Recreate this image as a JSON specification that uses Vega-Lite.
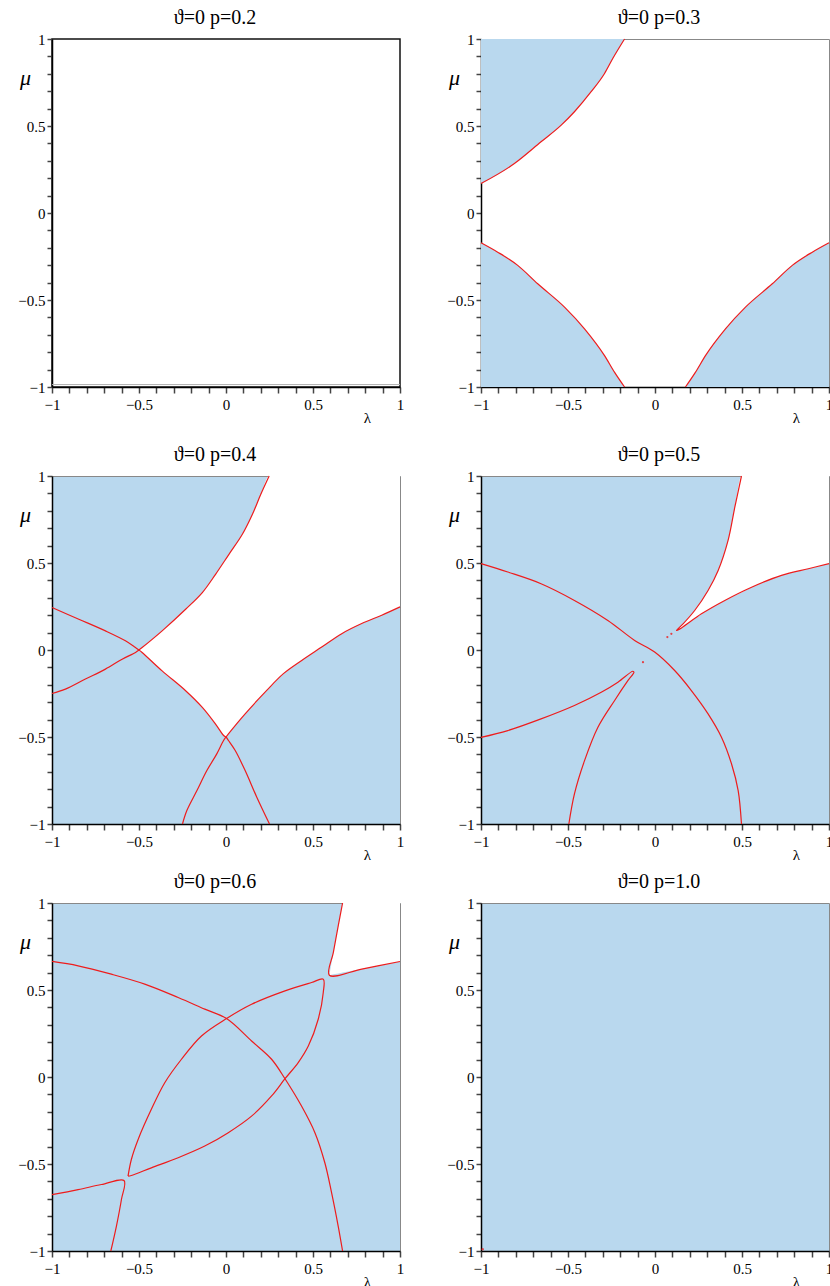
{
  "$schema": "https://vega.github.io/schema/vega-lite/v6.json",
  "background": "white",
  "padding": {"left": 17, "top": 7, "right": 2, "bottom": 0},
  "spacing": 18,
  "datasets": {
    "fills": [
      {"p":2,"r":"tl","lam":-1,"mu":0.169,"mu2":1},{"p":2,"r":"tl","lam":-0.808,"mu":0.284,"mu2":1},{"p":2,"r":"tl","lam":-0.655,"mu":0.409,"mu2":1},{"p":2,"r":"tl","lam":-0.539,"mu":0.505,"mu2":1},{"p":2,"r":"tl","lam":-0.463,"mu":0.582,"mu2":1},{"p":2,"r":"tl","lam":-0.367,"mu":0.697,"mu2":1},{"p":2,"r":"tl","lam":-0.29,"mu":0.802,"mu2":1},{"p":2,"r":"tl","lam":-0.242,"mu":0.889,"mu2":1},{"p":2,"r":"tl","lam":-0.175,"mu":1,"mu2":1},
      {"p":2,"r":"bl","lam":-1,"mu":-1,"mu2":-0.171},{"p":2,"r":"bl","lam":-0.904,"mu":-1,"mu2":-0.225},{"p":2,"r":"bl","lam":-0.789,"mu":-1,"mu2":-0.301},{"p":2,"r":"bl","lam":-0.674,"mu":-1,"mu2":-0.407},{"p":2,"r":"bl","lam":-0.52,"mu":-1,"mu2":-0.541},{"p":2,"r":"bl","lam":-0.405,"mu":-1,"mu2":-0.666},{"p":2,"r":"bl","lam":-0.29,"mu":-1,"mu2":-0.82},{"p":2,"r":"bl","lam":-0.232,"mu":-1,"mu2":-0.916},{"p":2,"r":"bl","lam":-0.175,"mu":-1,"mu2":-1},
      {"p":2,"r":"br","lam":0.175,"mu":-1,"mu2":-1},{"p":2,"r":"br","lam":0.232,"mu":-1,"mu2":-0.916},{"p":2,"r":"br","lam":0.29,"mu":-1,"mu2":-0.82},{"p":2,"r":"br","lam":0.405,"mu":-1,"mu2":-0.666},{"p":2,"r":"br","lam":0.52,"mu":-1,"mu2":-0.541},{"p":2,"r":"br","lam":0.674,"mu":-1,"mu2":-0.407},{"p":2,"r":"br","lam":0.789,"mu":-1,"mu2":-0.301},{"p":2,"r":"br","lam":0.904,"mu":-1,"mu2":-0.225},{"p":2,"r":"br","lam":1,"mu":-1,"mu2":-0.171},
      {"p":3,"r":"w","lam":-0.5,"mu":0,"mu2":0},{"p":3,"r":"w","lam":-0.482,"mu":-0.014,"mu2":0.014},{"p":3,"r":"w","lam":-0.367,"mu":-0.12,"mu2":0.11},{"p":3,"r":"w","lam":-0.232,"mu":-0.234,"mu2":0.234},{"p":3,"r":"w","lam":-0.136,"mu":-0.33,"mu2":0.33},{"p":3,"r":"w","lam":-0.06,"mu":-0.426,"mu2":0.435},{"p":3,"r":"w","lam":0,"mu":-0.5,"mu2":0.525},{"p":3,"r":"w","lam":0.017,"mu":-0.478,"mu2":0.55},{"p":3,"r":"w","lam":0.094,"mu":-0.386,"mu2":0.665},{"p":3,"r":"w","lam":0.152,"mu":-0.321,"mu2":0.78},{"p":3,"r":"w","lam":0.2,"mu":-0.269,"mu2":0.895},{"p":3,"r":"w","lam":0.248,"mu":-0.218,"mu2":1},{"p":3,"r":"w","lam":0.33,"mu":-0.136,"mu2":1},{"p":3,"r":"w","lam":0.435,"mu":-0.06,"mu2":1},{"p":3,"r":"w","lam":0.55,"mu":0.017,"mu2":1},{"p":3,"r":"w","lam":0.665,"mu":0.094,"mu2":1},{"p":3,"r":"w","lam":0.78,"mu":0.152,"mu2":1},{"p":3,"r":"w","lam":0.895,"mu":0.2,"mu2":1},{"p":3,"r":"w","lam":1,"mu":0.248,"mu2":1},
      {"p":4,"r":"w","lam":0.123,"mu":0.112,"mu2":0.112},{"p":4,"r":"w","lam":0.161,"mu":0.133,"mu2":0.15},{"p":4,"r":"w","lam":0.228,"mu":0.18,"mu2":0.227},{"p":4,"r":"w","lam":0.305,"mu":0.23,"mu2":0.342},{"p":4,"r":"w","lam":0.363,"mu":0.263,"mu2":0.457},{"p":4,"r":"w","lam":0.42,"mu":0.294,"mu2":0.63},{"p":4,"r":"w","lam":0.459,"mu":0.313,"mu2":0.822},{"p":4,"r":"w","lam":0.497,"mu":0.331,"mu2":1},{"p":4,"r":"w","lam":0.555,"mu":0.361,"mu2":1},{"p":4,"r":"w","lam":0.727,"mu":0.429,"mu2":1},{"p":4,"r":"w","lam":0.881,"mu":0.467,"mu2":1},{"p":4,"r":"w","lam":1,"mu":0.496,"mu2":1},
      {"p":5,"r":"w","lam":0.594,"mu":0.585,"mu2":0.585},{"p":5,"r":"w","lam":0.617,"mu":0.59,"mu2":0.716},{"p":5,"r":"w","lam":0.645,"mu":0.595,"mu2":0.869},{"p":5,"r":"w","lam":0.67,"mu":0.6,"mu2":1},{"p":5,"r":"w","lam":0.78,"mu":0.62,"mu2":1},{"p":5,"r":"w","lam":1,"mu":0.664,"mu2":1}
    ],
    "curves": [
      {"p":1,"s":"g","i":0,"lam":-1,"mu":-0.986},{"p":1,"s":"g","i":1,"lam":1,"mu":-0.986},
      {"p":2,"s":"a","i":0,"lam":-1,"mu":0.169},{"p":2,"s":"a","i":1,"lam":-0.808,"mu":0.284},{"p":2,"s":"a","i":2,"lam":-0.655,"mu":0.409},{"p":2,"s":"a","i":3,"lam":-0.539,"mu":0.505},{"p":2,"s":"a","i":4,"lam":-0.463,"mu":0.582},{"p":2,"s":"a","i":5,"lam":-0.367,"mu":0.697},{"p":2,"s":"a","i":6,"lam":-0.29,"mu":0.802},{"p":2,"s":"a","i":7,"lam":-0.242,"mu":0.889},{"p":2,"s":"a","i":8,"lam":-0.175,"mu":1},
      {"p":2,"s":"b","i":0,"lam":-1,"mu":-0.171},{"p":2,"s":"b","i":1,"lam":-0.904,"mu":-0.225},{"p":2,"s":"b","i":2,"lam":-0.789,"mu":-0.301},{"p":2,"s":"b","i":3,"lam":-0.674,"mu":-0.407},{"p":2,"s":"b","i":4,"lam":-0.52,"mu":-0.541},{"p":2,"s":"b","i":5,"lam":-0.405,"mu":-0.666},{"p":2,"s":"b","i":6,"lam":-0.29,"mu":-0.82},{"p":2,"s":"b","i":7,"lam":-0.232,"mu":-0.916},{"p":2,"s":"b","i":8,"lam":-0.175,"mu":-1},
      {"p":2,"s":"c","i":0,"lam":0.175,"mu":-1},{"p":2,"s":"c","i":1,"lam":0.232,"mu":-0.916},{"p":2,"s":"c","i":2,"lam":0.29,"mu":-0.82},{"p":2,"s":"c","i":3,"lam":0.405,"mu":-0.666},{"p":2,"s":"c","i":4,"lam":0.52,"mu":-0.541},{"p":2,"s":"c","i":5,"lam":0.674,"mu":-0.407},{"p":2,"s":"c","i":6,"lam":0.789,"mu":-0.301},{"p":2,"s":"c","i":7,"lam":0.904,"mu":-0.225},{"p":2,"s":"c","i":8,"lam":1,"mu":-0.171},
      {"p":3,"s":"A","i":0,"lam":-1,"mu":-0.25},{"p":3,"s":"A","i":1,"lam":-0.923,"mu":-0.225},{"p":3,"s":"A","i":2,"lam":-0.808,"mu":-0.167},{"p":3,"s":"A","i":3,"lam":-0.693,"mu":-0.11},{"p":3,"s":"A","i":4,"lam":-0.597,"mu":-0.053},{"p":3,"s":"A","i":5,"lam":-0.52,"mu":-0.014},{"p":3,"s":"A","i":6,"lam":-0.5,"mu":0},{"p":3,"s":"A","i":7,"lam":-0.482,"mu":0.014},{"p":3,"s":"A","i":8,"lam":-0.367,"mu":0.11},{"p":3,"s":"A","i":9,"lam":-0.232,"mu":0.234},{"p":3,"s":"A","i":10,"lam":-0.136,"mu":0.33},{"p":3,"s":"A","i":11,"lam":-0.06,"mu":0.435},{"p":3,"s":"A","i":12,"lam":0.017,"mu":0.55},{"p":3,"s":"A","i":13,"lam":0.094,"mu":0.665},{"p":3,"s":"A","i":14,"lam":0.152,"mu":0.78},{"p":3,"s":"A","i":15,"lam":0.2,"mu":0.895},{"p":3,"s":"A","i":16,"lam":0.248,"mu":1},
      {"p":3,"s":"B","i":0,"lam":-1,"mu":0.244},{"p":3,"s":"B","i":1,"lam":-0.846,"mu":0.177},{"p":3,"s":"B","i":2,"lam":-0.693,"mu":0.11},{"p":3,"s":"B","i":3,"lam":-0.578,"mu":0.053},{"p":3,"s":"B","i":4,"lam":-0.52,"mu":0.014},{"p":3,"s":"B","i":5,"lam":-0.5,"mu":0},{"p":3,"s":"B","i":6,"lam":-0.482,"mu":-0.014},{"p":3,"s":"B","i":7,"lam":-0.367,"mu":-0.12},{"p":3,"s":"B","i":8,"lam":-0.232,"mu":-0.234},{"p":3,"s":"B","i":9,"lam":-0.136,"mu":-0.33},{"p":3,"s":"B","i":10,"lam":-0.06,"mu":-0.426},{"p":3,"s":"B","i":11,"lam":-0.012,"mu":-0.493},{"p":3,"s":"B","i":12,"lam":0,"mu":-0.5},{"p":3,"s":"B","i":13,"lam":0.014,"mu":-0.52},{"p":3,"s":"B","i":14,"lam":0.053,"mu":-0.578},{"p":3,"s":"B","i":15,"lam":0.11,"mu":-0.693},{"p":3,"s":"B","i":16,"lam":0.177,"mu":-0.846},{"p":3,"s":"B","i":17,"lam":0.25,"mu":-1},
      {"p":3,"s":"C","i":0,"lam":-0.25,"mu":-1},{"p":3,"s":"C","i":1,"lam":-0.225,"mu":-0.923},{"p":3,"s":"C","i":2,"lam":-0.167,"mu":-0.808},{"p":3,"s":"C","i":3,"lam":-0.11,"mu":-0.693},{"p":3,"s":"C","i":4,"lam":-0.053,"mu":-0.597},{"p":3,"s":"C","i":5,"lam":-0.014,"mu":-0.52},{"p":3,"s":"C","i":6,"lam":0,"mu":-0.5},{"p":3,"s":"C","i":7,"lam":0.014,"mu":-0.482},{"p":3,"s":"C","i":8,"lam":0.11,"mu":-0.367},{"p":3,"s":"C","i":9,"lam":0.234,"mu":-0.232},{"p":3,"s":"C","i":10,"lam":0.33,"mu":-0.136},{"p":3,"s":"C","i":11,"lam":0.435,"mu":-0.06},{"p":3,"s":"C","i":12,"lam":0.55,"mu":0.017},{"p":3,"s":"C","i":13,"lam":0.665,"mu":0.094},{"p":3,"s":"C","i":14,"lam":0.78,"mu":0.152},{"p":3,"s":"C","i":15,"lam":0.895,"mu":0.2},{"p":3,"s":"C","i":16,"lam":1,"mu":0.248},
      {"p":4,"s":"A","i":0,"lam":-1,"mu":0.496},{"p":4,"s":"A","i":1,"lam":-0.846,"mu":0.448},{"p":4,"s":"A","i":2,"lam":-0.655,"mu":0.381},{"p":4,"s":"A","i":3,"lam":-0.463,"mu":0.285},{"p":4,"s":"A","i":4,"lam":-0.271,"mu":0.17},{"p":4,"s":"A","i":5,"lam":-0.117,"mu":0.055},{"p":4,"s":"A","i":6,"lam":-0.002,"mu":-0.012},{"p":4,"s":"A","i":7,"lam":0.113,"mu":-0.118},{"p":4,"s":"A","i":8,"lam":0.209,"mu":-0.233},{"p":4,"s":"A","i":9,"lam":0.305,"mu":-0.367},{"p":4,"s":"A","i":10,"lam":0.382,"mu":-0.501},{"p":4,"s":"A","i":11,"lam":0.44,"mu":-0.655},{"p":4,"s":"A","i":12,"lam":0.478,"mu":-0.808},{"p":4,"s":"A","i":13,"lam":0.497,"mu":-1},
      {"p":4,"s":"B","i":0,"lam":-1,"mu":-0.502},{"p":4,"s":"B","i":1,"lam":-0.846,"mu":-0.463},{"p":4,"s":"B","i":2,"lam":-0.655,"mu":-0.396},{"p":4,"s":"B","i":3,"lam":-0.463,"mu":-0.319},{"p":4,"s":"B","i":4,"lam":-0.309,"mu":-0.243},{"p":4,"s":"B","i":5,"lam":-0.213,"mu":-0.185},{"p":4,"s":"B","i":6,"lam":-0.127,"mu":-0.122},{"p":4,"s":"B","i":7,"lam":-0.121,"mu":-0.128},{"p":4,"s":"B","i":8,"lam":-0.155,"mu":-0.175},{"p":4,"s":"B","i":9,"lam":-0.232,"mu":-0.29},{"p":4,"s":"B","i":10,"lam":-0.328,"mu":-0.444},{"p":4,"s":"B","i":11,"lam":-0.405,"mu":-0.636},{"p":4,"s":"B","i":12,"lam":-0.463,"mu":-0.827},{"p":4,"s":"B","i":13,"lam":-0.495,"mu":-1},
      {"p":4,"s":"D","i":0,"lam":0.497,"mu":1},{"p":4,"s":"D","i":1,"lam":0.459,"mu":0.822},{"p":4,"s":"D","i":2,"lam":0.42,"mu":0.63},{"p":4,"s":"D","i":3,"lam":0.363,"mu":0.457},{"p":4,"s":"D","i":4,"lam":0.305,"mu":0.342},{"p":4,"s":"D","i":5,"lam":0.228,"mu":0.227},{"p":4,"s":"D","i":6,"lam":0.161,"mu":0.15},{"p":4,"s":"D","i":7,"lam":0.123,"mu":0.112},{"p":4,"s":"D","i":8,"lam":0.152,"mu":0.127},{"p":4,"s":"D","i":9,"lam":0.267,"mu":0.208},{"p":4,"s":"D","i":10,"lam":0.401,"mu":0.285},{"p":4,"s":"D","i":11,"lam":0.555,"mu":0.361},{"p":4,"s":"D","i":12,"lam":0.727,"mu":0.429},{"p":4,"s":"D","i":13,"lam":0.881,"mu":0.467},{"p":4,"s":"D","i":14,"lam":1,"mu":0.496},
      {"p":5,"s":"A","i":0,"lam":-1,"mu":0.664},{"p":5,"s":"A","i":1,"lam":-0.85,"mu":0.639},{"p":5,"s":"A","i":2,"lam":-0.659,"mu":0.591},{"p":5,"s":"A","i":3,"lam":-0.467,"mu":0.534},{"p":5,"s":"A","i":4,"lam":-0.275,"mu":0.457},{"p":5,"s":"A","i":5,"lam":-0.122,"mu":0.39},{"p":5,"s":"A","i":6,"lam":0.003,"mu":0.336},{"p":5,"s":"A","i":7,"lam":0.147,"mu":0.207},{"p":5,"s":"A","i":8,"lam":0.262,"mu":0.102},{"p":5,"s":"A","i":9,"lam":0.339,"mu":-0.01},{"p":5,"s":"A","i":10,"lam":0.434,"mu":-0.167},{"p":5,"s":"A","i":11,"lam":0.511,"mu":-0.32},{"p":5,"s":"A","i":12,"lam":0.568,"mu":-0.493},{"p":5,"s":"A","i":13,"lam":0.607,"mu":-0.666},{"p":5,"s":"A","i":14,"lam":0.645,"mu":-0.858},{"p":5,"s":"A","i":15,"lam":0.67,"mu":-1},
      {"p":5,"s":"L","i":0,"lam":-0.563,"mu":-0.57},{"p":5,"s":"L","i":1,"lam":-0.544,"mu":-0.474},{"p":5,"s":"L","i":2,"lam":-0.505,"mu":-0.359},{"p":5,"s":"L","i":3,"lam":-0.429,"mu":-0.186},{"p":5,"s":"L","i":4,"lam":-0.352,"mu":-0.033},{"p":5,"s":"L","i":5,"lam":-0.256,"mu":0.102},{"p":5,"s":"L","i":6,"lam":-0.141,"mu":0.236},{"p":5,"s":"L","i":7,"lam":0.003,"mu":0.336},{"p":5,"s":"L","i":8,"lam":0.147,"mu":0.418},{"p":5,"s":"L","i":9,"lam":0.339,"mu":0.495},{"p":5,"s":"L","i":10,"lam":0.492,"mu":0.543},{"p":5,"s":"L","i":11,"lam":0.559,"mu":0.562},{"p":5,"s":"L","i":12,"lam":0.559,"mu":0.486},{"p":5,"s":"L","i":13,"lam":0.53,"mu":0.332},{"p":5,"s":"L","i":14,"lam":0.473,"mu":0.178},{"p":5,"s":"L","i":15,"lam":0.415,"mu":0.083},{"p":5,"s":"L","i":16,"lam":0.339,"mu":-0.01},{"p":5,"s":"L","i":17,"lam":0.262,"mu":-0.109},{"p":5,"s":"L","i":18,"lam":0.147,"mu":-0.225},{"p":5,"s":"L","i":19,"lam":0.013,"mu":-0.32},{"p":5,"s":"L","i":20,"lam":-0.122,"mu":-0.397},{"p":5,"s":"L","i":21,"lam":-0.275,"mu":-0.464},{"p":5,"s":"L","i":22,"lam":-0.429,"mu":-0.522},{"p":5,"s":"L","i":23,"lam":-0.544,"mu":-0.566},{"p":5,"s":"L","i":24,"lam":-0.563,"mu":-0.57},
      {"p":5,"s":"M","i":0,"lam":-1,"mu":-0.676},{"p":5,"s":"M","i":1,"lam":-0.85,"mu":-0.647},{"p":5,"s":"M","i":2,"lam":-0.716,"mu":-0.618},{"p":5,"s":"M","i":3,"lam":-0.586,"mu":-0.595},{"p":5,"s":"M","i":4,"lam":-0.601,"mu":-0.704},{"p":5,"s":"M","i":5,"lam":-0.63,"mu":-0.858},{"p":5,"s":"M","i":6,"lam":-0.662,"mu":-1},
      {"p":5,"s":"U","i":0,"lam":0.67,"mu":1},{"p":5,"s":"U","i":1,"lam":0.645,"mu":0.869},{"p":5,"s":"U","i":2,"lam":0.617,"mu":0.716},{"p":5,"s":"U","i":3,"lam":0.594,"mu":0.585},{"p":5,"s":"U","i":4,"lam":0.78,"mu":0.62},{"p":5,"s":"U","i":5,"lam":1,"mu":0.664}
    ],
    "dots": [
      {"p":4,"lam":0.094,"mu":0.093},{"p":4,"lam":0.071,"mu":0.074},{"p":4,"lam":-0.069,"mu":-0.07},
      {"p":6,"lam":-0.99,"mu":-0.99}
    ]
  },
  "vconcat": [
    {
      "hconcat": [
        {
          "title": {"text": "ϑ=0 p=0.2", "dx": -11},
          "width": 348, "height": 348,
          "view": {"stroke": "#111", "strokeWidth": 1.5},
          "data": {"name": "curves"},
          "transform": [{"filter": "datum.p == 1"}],
          "mark": {"type": "line", "color": "#b0b0b0", "strokeWidth": 1},
          "encoding": {
            "x": {"field": "lam", "type": "quantitative", "scale": {"domain": [-1, 1], "nice": false, "zero": false}, "axis": {"title": "λ", "values": [-1,-0.9,-0.8,-0.7,-0.6,-0.5,-0.4,-0.3,-0.2,-0.1,0,0.1,0.2,0.3,0.4,0.5,0.6,0.7,0.8,0.9,1], "format": ".1~f", "labelExpr": "datum.value % 0.5 == 0 ? datum.label : ''"}},
            "y": {"field": "mu", "type": "quantitative", "scale": {"domain": [-1, 1], "nice": false, "zero": false}, "axis": {"title": "μ", "values": [-1,-0.9,-0.8,-0.7,-0.6,-0.5,-0.4,-0.3,-0.2,-0.1,0,0.1,0.2,0.3,0.4,0.5,0.6,0.7,0.8,0.9,1], "format": ".1~f", "labelExpr": "datum.value % 0.5 == 0 ? datum.label : ''"}},
            "detail": {"field": "s"},
            "order": {"field": "i"}
          }
        },
        {
          "title": {"text": "ϑ=0 p=0.3", "dx": 4},
          "width": 348, "height": 348,
          "encoding": {
            "x": {"field": "lam", "type": "quantitative", "scale": {"domain": [-1, 1], "nice": false, "zero": false}, "axis": {"title": "λ", "values": [-1,-0.9,-0.8,-0.7,-0.6,-0.5,-0.4,-0.3,-0.2,-0.1,0,0.1,0.2,0.3,0.4,0.5,0.6,0.7,0.8,0.9,1], "format": ".1~f", "labelExpr": "datum.value % 0.5 == 0 ? datum.label : ''"}},
            "y": {"field": "mu", "type": "quantitative", "scale": {"domain": [-1, 1], "nice": false, "zero": false}, "axis": {"title": "μ", "values": [-1,-0.9,-0.8,-0.7,-0.6,-0.5,-0.4,-0.3,-0.2,-0.1,0,0.1,0.2,0.3,0.4,0.5,0.6,0.7,0.8,0.9,1], "format": ".1~f", "labelExpr": "datum.value % 0.5 == 0 ? datum.label : ''"}}
          },
          "layer": [
            {"data": {"name": "fills"}, "transform": [{"filter": "datum.p == 2"}], "mark": {"type": "area", "color": "#b9d8ee", "opacity": 1, "interpolate": "monotone"}, "encoding": {"y2": {"field": "mu2"}, "detail": {"field": "r"}}},
            {"data": {"name": "curves"}, "transform": [{"filter": "datum.p == 2"}], "mark": {"type": "line", "color": "#ee1c1c", "strokeWidth": 1.2, "interpolate": "monotone"}, "encoding": {"detail": {"field": "s"}, "order": {"field": "i"}}}
          ]
        }
      ],
      "spacing": 41
    },
    {
      "vconcat": [
        {
          "hconcat": [
            {
              "title": {"text": "ϑ=0 p=0.4", "dx": -11},
              "width": 348, "height": 348,
              "view": {"fill": "#b9d8ee", "stroke": "#888"},
              "encoding": {
                "x": {"field": "lam", "type": "quantitative", "scale": {"domain": [-1, 1], "nice": false, "zero": false}, "axis": {"title": "λ", "values": [-1,-0.9,-0.8,-0.7,-0.6,-0.5,-0.4,-0.3,-0.2,-0.1,0,0.1,0.2,0.3,0.4,0.5,0.6,0.7,0.8,0.9,1], "format": ".1~f", "labelExpr": "datum.value % 0.5 == 0 ? datum.label : ''"}},
                "y": {"field": "mu", "type": "quantitative", "scale": {"domain": [-1, 1], "nice": false, "zero": false}, "axis": {"title": "μ", "values": [-1,-0.9,-0.8,-0.7,-0.6,-0.5,-0.4,-0.3,-0.2,-0.1,0,0.1,0.2,0.3,0.4,0.5,0.6,0.7,0.8,0.9,1], "format": ".1~f", "labelExpr": "datum.value % 0.5 == 0 ? datum.label : ''"}}
              },
              "layer": [
                {"data": {"name": "fills"}, "transform": [{"filter": "datum.p == 3"}], "mark": {"type": "area", "color": "white", "opacity": 1, "interpolate": "monotone"}, "encoding": {"y2": {"field": "mu2"}, "detail": {"field": "r"}}},
                {"data": {"name": "curves"}, "transform": [{"filter": "datum.p == 3"}], "mark": {"type": "line", "color": "#ee1c1c", "strokeWidth": 1.2, "interpolate": "catmull-rom"}, "encoding": {"detail": {"field": "s"}, "order": {"field": "i"}}}
              ]
            },
            {
              "title": {"text": "ϑ=0 p=0.5", "dx": 4},
              "width": 348, "height": 348,
              "view": {"fill": "#b9d8ee", "stroke": "#888"},
              "encoding": {
                "x": {"field": "lam", "type": "quantitative", "scale": {"domain": [-1, 1], "nice": false, "zero": false}, "axis": {"title": "λ", "values": [-1,-0.9,-0.8,-0.7,-0.6,-0.5,-0.4,-0.3,-0.2,-0.1,0,0.1,0.2,0.3,0.4,0.5,0.6,0.7,0.8,0.9,1], "format": ".1~f", "labelExpr": "datum.value % 0.5 == 0 ? datum.label : ''"}},
                "y": {"field": "mu", "type": "quantitative", "scale": {"domain": [-1, 1], "nice": false, "zero": false}, "axis": {"title": "μ", "values": [-1,-0.9,-0.8,-0.7,-0.6,-0.5,-0.4,-0.3,-0.2,-0.1,0,0.1,0.2,0.3,0.4,0.5,0.6,0.7,0.8,0.9,1], "format": ".1~f", "labelExpr": "datum.value % 0.5 == 0 ? datum.label : ''"}}
              },
              "layer": [
                {"data": {"name": "fills"}, "transform": [{"filter": "datum.p == 4"}], "mark": {"type": "area", "color": "white", "opacity": 1, "interpolate": "monotone"}, "encoding": {"y2": {"field": "mu2"}, "detail": {"field": "r"}}},
                {"data": {"name": "curves"}, "transform": [{"filter": "datum.p == 4"}], "mark": {"type": "line", "color": "#ee1c1c", "strokeWidth": 1.2, "interpolate": "catmull-rom"}, "encoding": {"detail": {"field": "s"}, "order": {"field": "i"}}},
                {"data": {"name": "dots"}, "transform": [{"filter": "datum.p == 4"}], "mark": {"type": "point", "filled": true, "color": "#ee1c1c", "size": 5, "opacity": 0.8}}
              ]
            }
          ],
          "spacing": 41
        },
        {
          "hconcat": [
            {
              "title": {"text": "ϑ=0 p=0.6", "dx": -11},
              "width": 348, "height": 348,
              "view": {"fill": "#b9d8ee", "stroke": "#888"},
              "encoding": {
                "x": {"field": "lam", "type": "quantitative", "scale": {"domain": [-1, 1], "nice": false, "zero": false}, "axis": {"title": "λ", "values": [-1,-0.9,-0.8,-0.7,-0.6,-0.5,-0.4,-0.3,-0.2,-0.1,0,0.1,0.2,0.3,0.4,0.5,0.6,0.7,0.8,0.9,1], "format": ".1~f", "labelExpr": "datum.value % 0.5 == 0 ? datum.label : ''"}},
                "y": {"field": "mu", "type": "quantitative", "scale": {"domain": [-1, 1], "nice": false, "zero": false}, "axis": {"title": "μ", "values": [-1,-0.9,-0.8,-0.7,-0.6,-0.5,-0.4,-0.3,-0.2,-0.1,0,0.1,0.2,0.3,0.4,0.5,0.6,0.7,0.8,0.9,1], "format": ".1~f", "labelExpr": "datum.value % 0.5 == 0 ? datum.label : ''"}}
              },
              "layer": [
                {"data": {"name": "fills"}, "transform": [{"filter": "datum.p == 5"}], "mark": {"type": "area", "color": "white", "opacity": 1}, "encoding": {"y2": {"field": "mu2"}, "detail": {"field": "r"}}},
                {"data": {"name": "curves"}, "transform": [{"filter": "datum.p == 5"}], "mark": {"type": "line", "color": "#ee1c1c", "strokeWidth": 1.2, "interpolate": "catmull-rom"}, "encoding": {"detail": {"field": "s"}, "order": {"field": "i"}}}
              ]
            },
            {
              "title": {"text": "ϑ=0 p=1.0", "dx": 4},
              "width": 348, "height": 348,
              "view": {"fill": "#b9d8ee", "stroke": "#888"},
              "data": {"name": "dots"},
              "transform": [{"filter": "datum.p == 6"}],
              "mark": {"type": "point", "filled": true, "color": "#ee1c1c", "size": 6},
              "encoding": {
                "x": {"field": "lam", "type": "quantitative", "scale": {"domain": [-1, 1], "nice": false, "zero": false}, "axis": {"title": "λ", "values": [-1,-0.9,-0.8,-0.7,-0.6,-0.5,-0.4,-0.3,-0.2,-0.1,0,0.1,0.2,0.3,0.4,0.5,0.6,0.7,0.8,0.9,1], "format": ".1~f", "labelExpr": "datum.value % 0.5 == 0 ? datum.label : ''"}},
                "y": {"field": "mu", "type": "quantitative", "scale": {"domain": [-1, 1], "nice": false, "zero": false}, "axis": {"title": "μ", "values": [-1,-0.9,-0.8,-0.7,-0.6,-0.5,-0.4,-0.3,-0.2,-0.1,0,0.1,0.2,0.3,0.4,0.5,0.6,0.7,0.8,0.9,1], "format": ".1~f", "labelExpr": "datum.value % 0.5 == 0 ? datum.label : ''"}}
              }
            }
          ],
          "spacing": 41
        }
      ],
      "spacing": 8
    }
  ],
  "config": {
    "font": "Liberation Serif",
    "view": {"stroke": "#888"},
    "axis": {"grid": false, "domainColor": "#000", "domainWidth": 1.5, "tickColor": "#444", "tickWidth": 1.5, "labelFont": "Liberation Serif", "labelFontSize": 15, "labelColor": "#000", "labelFlush": false, "labelOverlap": false, "titleFont": "Liberation Serif", "titleFontWeight": "normal", "titleColor": "#000"},
    "axisX": {"tickSize": 6, "labelPadding": 4, "titleFontSize": 15, "titleX": 315, "titleY": 30, "titleAlign": "center", "titleBaseline": "middle"},
    "axisY": {"tickSize": 5, "labelPadding": 2, "titleFontSize": 22, "titleFontStyle": "italic", "titleAngle": 0, "titleX": -27, "titleY": 38, "titleAlign": "center", "titleBaseline": "middle"},
    "title": {"font": "Liberation Serif", "fontSize": 20, "fontWeight": "normal", "color": "#000", "offset": 4}
  }
}
